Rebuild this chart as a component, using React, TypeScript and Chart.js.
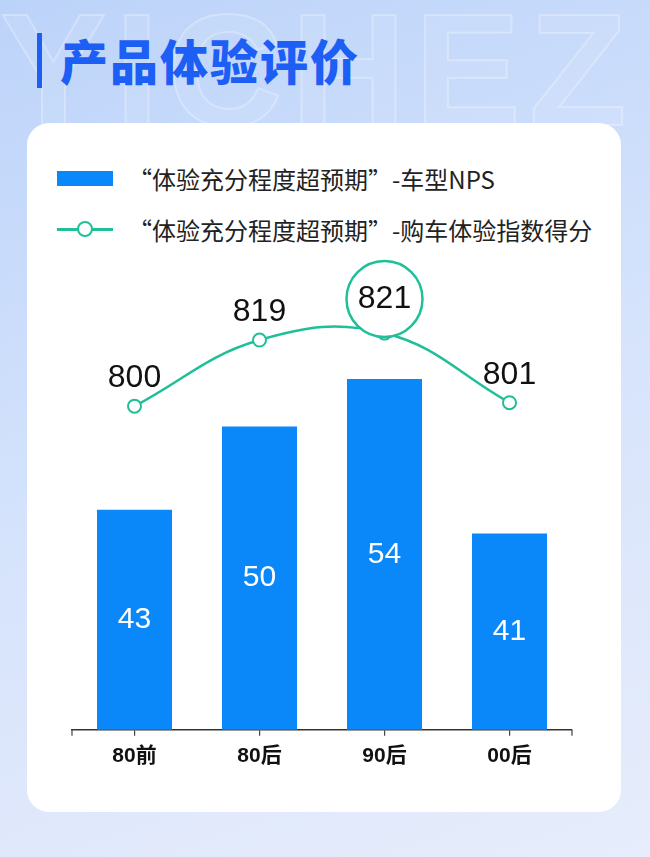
import { useEffect, useRef } from "react";
import { Chart, registerables, type Plugin } from "chart.js";

Chart.register(...registerables);

const CATEGORIES = ["80前", "80后", "90后", "00后"];
const NPS = [43, 50, 54, 41];
const SCORE = [800, 819, 821, 801];
const BAR_LABEL = "“体验充分程度超预期”-车型NPS";
const LINE_LABEL = "“体验充分程度超预期”-购车体验指数得分";
const TITLE = "产品体验评价";

const BLUE = "#0a88f9";
const GREEN = "#1fbf98";
const TITLE_BLUE = "#1d5ef5";
const NUM_FONT = '"Liberation Sans", "Noto Sans CJK SC", sans-serif';
const CJK_FONT = '"Noto Sans CJK SC", "Liberation Sans", sans-serif';

// value labels on bars / above points, circle around the best score, end ticks on the axis
const valueLabels: Plugin = {
  id: "valueLabels",
  afterDatasetsDraw(chart) {
    const { ctx, chartArea } = chart;
    ctx.save();
    ctx.textAlign = "center";
    ctx.textBaseline = "middle";

    const bars = chart.getDatasetMeta(1).data as any[];
    ctx.font = `30px ${NUM_FONT}`;
    ctx.fillStyle = "#fff";
    bars.forEach((el, i) => {
      const base = Math.min(el.base, chartArea.bottom);
      ctx.fillText(String(NPS[i]), el.x, (el.y + base) / 2);
    });

    const pts = chart.getDatasetMeta(0).data as any[];
    const maxIdx = SCORE.indexOf(Math.max(...SCORE));
    pts.forEach((pt, i) => {
      const cy = pt.y - (i === maxIdx ? 34 : 28);
      if (i === maxIdx) {
        ctx.beginPath();
        ctx.arc(pt.x, cy, 38, 0, Math.PI * 2);
        ctx.fillStyle = "#fff";
        ctx.fill();
        ctx.lineWidth = 2.5;
        ctx.strokeStyle = GREEN;
        ctx.stroke();
      }
      ctx.fillStyle = "#111";
      ctx.font = `32px ${NUM_FONT}`;
      ctx.fillText(String(SCORE[i]), pt.x, cy);
    });

    ctx.strokeStyle = "#444";
    ctx.lineWidth = 1.2;
    [chartArea.left, chartArea.right].forEach((x) => {
      ctx.beginPath();
      ctx.moveTo(x, chartArea.bottom);
      ctx.lineTo(x, chartArea.bottom + 6);
      ctx.stroke();
    });
    ctx.restore();
  },
};

function ScoreChart() {
  const canvasRef = useRef<HTMLCanvasElement>(null);

  useEffect(() => {
    if (!canvasRef.current) return;
    const chart = new Chart(canvasRef.current, {
      type: "bar",
      data: {
        labels: CATEGORIES,
        datasets: [
          {
            type: "line",
            label: LINE_LABEL,
            data: SCORE,
            yAxisID: "y2",
            borderColor: GREEN,
            borderWidth: 2.5,
            pointRadius: 6.5,
            pointBackgroundColor: "#fff",
            pointBorderColor: GREEN,
            pointBorderWidth: 2,
            tension: 0.4,
            order: 0,
          } as any,
          {
            type: "bar",
            label: BAR_LABEL,
            data: NPS,
            yAxisID: "y",
            backgroundColor: BLUE,
            barPercentage: 0.6,
            categoryPercentage: 1,
            order: 1,
          },
        ],
      },
      options: {
        responsive: false,
        animation: false,
        layout: { padding: { left: 72, right: 78, top: 260, bottom: 80 } },
        plugins: { legend: { display: false }, tooltip: { enabled: false } },
        scales: {
          x: {
            offset: true,
            grid: {
              display: true,
              drawOnChartArea: false,
              drawTicks: true,
              tickLength: 6,
              offset: false,
              color: "#444",
              lineWidth: 1.2,
            },
            border: { display: true, color: "#333", width: 1.5 },
            ticks: {
              color: "#111",
              padding: 8,
              font: { size: 21, weight: "bold", family: NUM_FONT },
            },
          },
          y: { display: false, min: 24.5, max: 64 },
          y2: { display: false, position: "right", min: 707, max: 842 },
        },
      },
      plugins: [valueLabels],
    });
    return () => chart.destroy();
  }, []);

  return (
    <canvas
      ref={canvasRef}
      width={650}
      height={857}
      style={{ position: "absolute", left: 0, top: 0, width: 650, height: 857 }}
    />
  );
}

export default function App() {
  return (
    <div
      style={{
        position: "fixed",
        left: 0,
        top: 0,
        width: 650,
        height: 857,
        overflow: "hidden",
        background: "linear-gradient(160deg, #bcd3f9 0%, #d3e2fc 45%, #dfe8fb 75%, #e6edfb 100%)",
        fontFamily: CJK_FONT,
      }}
    >
      <div
        style={{
          position: "absolute",
          left: 0,
          top: -22,
          fontFamily: NUM_FONT,
          fontSize: 160,
          fontWeight: 700,
          letterSpacing: 8,
          color: "rgba(255,255,255,0.08)",
          WebkitTextStroke: "2px rgba(255,255,255,0.28)",
          whiteSpace: "nowrap",
        }}
      >
        YICHEZ
      </div>
      <div
        style={{ position: "absolute", left: 37, top: 33, width: 5, height: 55, background: TITLE_BLUE }}
      />
      <div
        style={{
          position: "absolute",
          left: 60,
          top: 30,
          fontSize: 48,
          lineHeight: "58px",
          fontWeight: 900,
          color: TITLE_BLUE,
          letterSpacing: 2,
        }}
      >
        {TITLE}
      </div>
      <div
        style={{
          position: "absolute",
          left: 27,
          top: 123,
          width: 594,
          height: 689,
          background: "#fff",
          borderRadius: 22,
        }}
      />
      <div style={{ position: "absolute", left: 57, top: 171, width: 56, height: 15, background: BLUE }} />
      <div
        style={{ position: "absolute", left: 128, top: 162, fontSize: 24, lineHeight: "34px", color: "#222" }}
      >
        {BAR_LABEL}
      </div>
      <div style={{ position: "absolute", left: 57, top: 228, width: 56, height: 2.5, background: GREEN }} />
      <div
        style={{
          position: "absolute",
          left: 77,
          top: 221,
          width: 12,
          height: 12,
          borderRadius: "50%",
          border: `2.5px solid ${GREEN}`,
          background: "#fff",
        }}
      />
      <div
        style={{ position: "absolute", left: 128, top: 213, fontSize: 24, lineHeight: "34px", color: "#222" }}
      >
        {LINE_LABEL}
      </div>
      <ScoreChart />
    </div>
  );
}
